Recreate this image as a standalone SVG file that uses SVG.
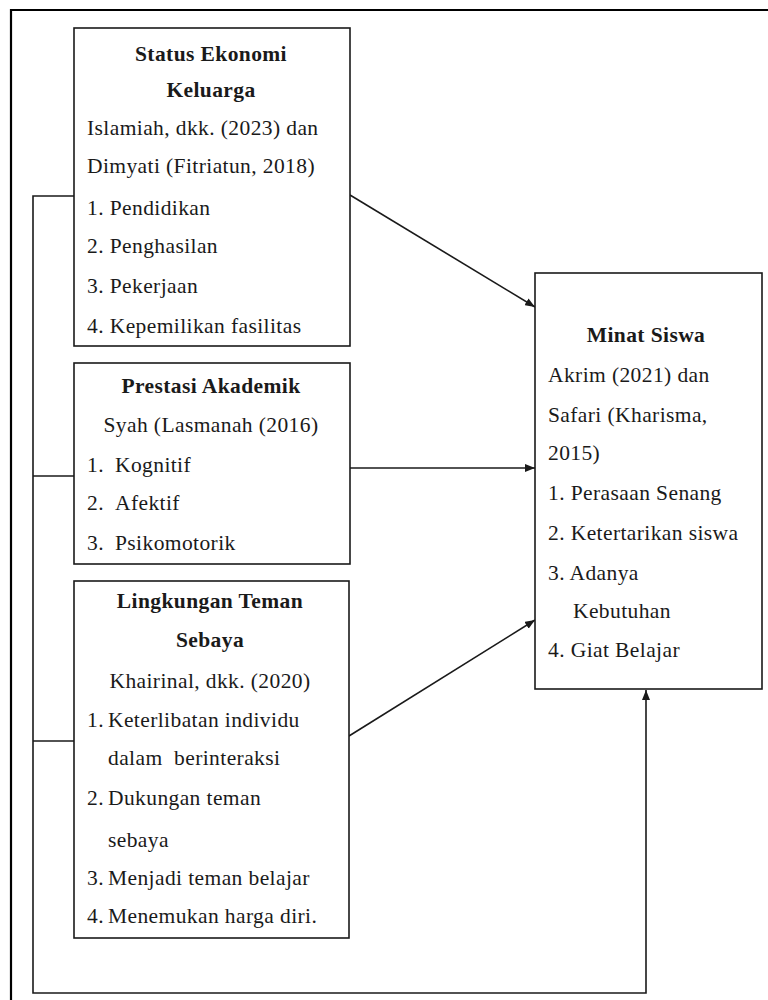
<svg xmlns="http://www.w3.org/2000/svg" width="768" height="1000" viewBox="0 0 768 1000">
<style>
.box{fill:#fff;stroke:#1a1a1a;stroke-width:1.6}
.t{font-family:"Liberation Serif","Times New Roman",serif;font-size:21.5px;fill:#1a1a1a;letter-spacing:0.4px}
.b{font-weight:bold}
.c{text-anchor:middle}
.ln{fill:none;stroke:#1a1a1a;stroke-width:1.6}
</style>
<defs>
<marker id="arr" markerWidth="10" markerHeight="8" refX="10" refY="4" orient="auto" markerUnits="userSpaceOnUse">
<path d="M0,0 L10,4 L0,8 Z" fill="#1a1a1a"/>
</marker>
</defs>
<rect x="0" y="0" width="768" height="1000" fill="#fff"/>
<path d="M11,1002 V10 H770" fill="none" stroke="#000" stroke-width="2.2"/>
<g id="connectors">
<path class="ln" d="M74,196 H33 V993 H646 V690" marker-end="url(#arr)"/>
<path class="ln" d="M33,476 H74"/>
<path class="ln" d="M33,741 H74"/>
<path class="ln" d="M350,195 L535,307" marker-end="url(#arr)"/>
<path class="ln" d="M350,468 L535,468" marker-end="url(#arr)"/>
<path class="ln" d="M349,736 L535,620" marker-end="url(#arr)"/>
</g>
<g id="node-status">
<rect class="box" x="74" y="28" width="276" height="318"/>
<text class="t b c" x="211" y="61">Status Ekonomi</text>
<text class="t b c" x="211" y="97">Keluarga</text>
<text class="t" x="87" y="135">Islamiah, dkk. (2023) dan</text>
<text class="t" x="87" y="173">Dimyati (Fitriatun, 2018)</text>
<text class="t" x="87" y="215">1. Pendidikan</text>
<text class="t" x="87" y="253">2. Penghasilan</text>
<text class="t" x="87" y="293">3. Pekerjaan</text>
<text class="t" x="87" y="333">4. Kepemilikan fasilitas</text>
</g>
<g id="node-prestasi">
<rect class="box" x="74" y="363" width="276" height="201"/>
<text class="t b c" x="211" y="393">Prestasi Akademik</text>
<text class="t c" x="211" y="432">Syah (Lasmanah (2016)</text>
<text class="t" x="87" y="472">1.</text><text class="t" x="115" y="472">Kognitif</text>
<text class="t" x="87" y="510">2.</text><text class="t" x="115" y="510">Afektif</text>
<text class="t" x="87" y="550">3.</text><text class="t" x="115" y="550">Psikomotorik</text>
</g>
<g id="node-lingkungan">
<rect class="box" x="74" y="581" width="275" height="357"/>
<text class="t b c" x="210" y="608">Lingkungan Teman</text>
<text class="t b c" x="210" y="647">Sebaya</text>
<text class="t c" x="210" y="688">Khairinal, dkk. (2020)</text>
<text class="t" x="87" y="727">1.</text><text class="t" x="108" y="727">Keterlibatan individu</text>
<text class="t" x="108" y="765" xml:space="preserve">dalam  berinteraksi</text>
<text class="t" x="87" y="805">2.</text><text class="t" x="108" y="805">Dukungan teman</text>
<text class="t" x="108" y="847">sebaya</text>
<text class="t" x="87" y="885">3.</text><text class="t" x="108" y="885">Menjadi teman belajar</text>
<text class="t" x="87" y="923">4.</text><text class="t" x="108" y="923">Menemukan harga diri.</text>
</g>
<g id="node-minat">
<rect class="box" x="535" y="273" width="227" height="416"/>
<text class="t b c" x="646" y="342">Minat Siswa</text>
<text class="t" x="548" y="382">Akrim (2021) dan</text>
<text class="t" x="548" y="422">Safari (Kharisma,</text>
<text class="t" x="548" y="460">2015)</text>
<text class="t" x="548" y="500">1. Perasaan Senang</text>
<text class="t" x="548" y="540">2. Ketertarikan siswa</text>
<text class="t" x="548" y="580">3. Adanya</text>
<text class="t" x="573" y="618">Kebutuhan</text>
<text class="t" x="548" y="657">4. Giat Belajar</text>
</g>
</svg>
